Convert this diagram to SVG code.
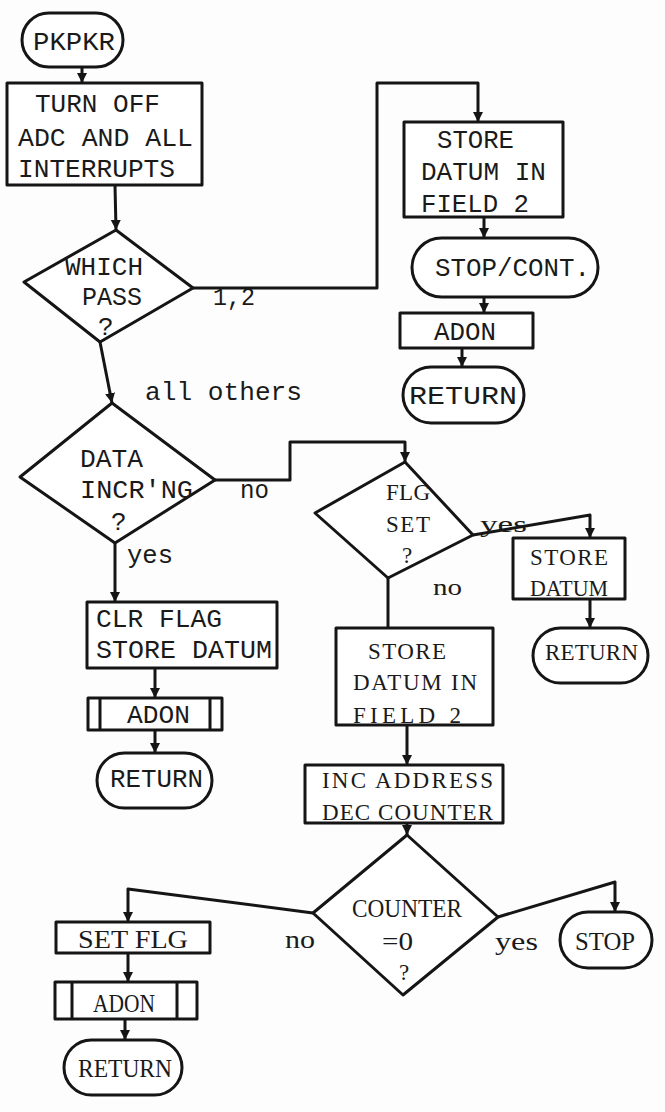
<svg xmlns="http://www.w3.org/2000/svg" width="665" height="1112" viewBox="0 0 665 1112">
<defs>
<style>
.s{fill:#ffffff;stroke:#151515;stroke-width:3;stroke-linejoin:round}
.c{fill:none;stroke:#151515;stroke-width:3;stroke-linejoin:round}
.m{font-family:"Liberation Mono","DejaVu Sans Mono",monospace;font-size:26px;fill:#1a1a1a}
.t{font-family:"Liberation Serif","DejaVu Serif",serif;font-size:23px;fill:#1a1a1a}
.b{font-family:"Liberation Serif","DejaVu Serif",serif;font-size:26px;fill:#1a1a1a}
</style>
<marker id="ah" markerUnits="userSpaceOnUse" markerWidth="12" markerHeight="12" refX="10" refY="5" orient="auto">
<path d="M0,0 L10,5 L0,10 z" fill="#151515"/>
</marker>
</defs>
<rect width="665" height="1112" fill="#fdfdfd"/>

<g id="connectors">
<path class="c" d="M82,67 L82,83" marker-end="url(#ah)"/>
<path class="c" d="M115,185 L116,230" marker-end="url(#ah)"/>
<path class="c" d="M193,288 L377,288 L377,83 L478,83 L478,122" marker-end="url(#ah)"/>
<path class="c" d="M484,217 L484,238" marker-end="url(#ah)"/>
<path class="c" d="M484,297 L484,313" marker-end="url(#ah)"/>
<path class="c" d="M462,348 L462,367" marker-end="url(#ah)"/>
<path class="c" d="M100,342 L112,403" marker-end="url(#ah)"/>
<path class="c" d="M215,480 L290,480 L290,442 L405,442 L405,462" marker-end="url(#ah)"/>
<path class="c" d="M115,543 L115,602" marker-end="url(#ah)"/>
<path class="c" d="M155,668 L155,698" marker-end="url(#ah)"/>
<path class="c" d="M155,730 L155,753" marker-end="url(#ah)"/>
<path class="c" d="M473,535 L590,515 L590,538" marker-end="url(#ah)"/>
<path class="c" d="M590,599 L590,628" marker-end="url(#ah)"/>
<path class="c" d="M388,578 L388,628"/>
<path class="c" d="M407,725 L407,765" marker-end="url(#ah)"/>
<path class="c" d="M407,823 L407,835" marker-end="url(#ah)"/>
<path class="c" d="M313,913 L128,889 L128,922" marker-end="url(#ah)"/>
<path class="c" d="M128,953 L128,982" marker-end="url(#ah)"/>
<path class="c" d="M125,1019 L125,1040" marker-end="url(#ah)"/>
<path class="c" d="M498,917 L615,882 L615,912" marker-end="url(#ah)"/>
<text class="m" x="213" y="305" textLength="42" lengthAdjust="spacingAndGlyphs">1,2</text>
<text class="m" x="145" y="400" textLength="157" lengthAdjust="spacingAndGlyphs">all others</text>
<text class="m" x="240" y="498" textLength="29" lengthAdjust="spacingAndGlyphs">no</text>
<text class="m" x="127" y="563" textLength="46" lengthAdjust="spacingAndGlyphs">yes</text>
<text class="t" x="480" y="532" textLength="47" lengthAdjust="spacingAndGlyphs">yes</text>
<text class="t" x="433" y="595" textLength="29" lengthAdjust="spacingAndGlyphs">no</text>
<text class="b" x="285" y="948" textLength="30" lengthAdjust="spacingAndGlyphs">no</text>
<text class="b" x="495" y="950" textLength="43" lengthAdjust="spacingAndGlyphs">yes</text>
</g>

<g id="pkpkr">
<rect class="s" x="22" y="13" width="101" height="54" rx="27"/>
<text class="m" x="33" y="50" textLength="82" lengthAdjust="spacingAndGlyphs">PKPKR</text>
</g>

<g id="turn-off">
<rect class="s" x="7" y="83" width="195" height="102"/>
<text class="m" x="35" y="112" textLength="125" lengthAdjust="spacingAndGlyphs">TURN OFF</text>
<text class="m" x="18" y="146" textLength="175" lengthAdjust="spacingAndGlyphs">ADC AND ALL</text>
<text class="m" x="18" y="177" textLength="157" lengthAdjust="spacingAndGlyphs">INTERRUPTS</text>
</g>

<g id="which-pass">
<polygon class="s" points="116,230 193,288 100,342 24,282"/>
<text class="m" x="65" y="275" textLength="78" lengthAdjust="spacingAndGlyphs">WHICH</text>
<text class="m" x="82" y="305" textLength="60" lengthAdjust="spacingAndGlyphs">PASS</text>
<text class="m" x="98" y="335">?</text>
</g>

<g id="store-field2-a">
<rect class="s" x="404" y="122" width="159" height="95"/>
<text class="m" x="437" y="148" textLength="77" lengthAdjust="spacingAndGlyphs">STORE</text>
<text class="m" x="421" y="180" textLength="125" lengthAdjust="spacingAndGlyphs">DATUM IN</text>
<text class="m" x="421" y="212" textLength="108" lengthAdjust="spacingAndGlyphs">FIELD 2</text>
</g>

<g id="stop-cont">
<rect class="s" x="412" y="238" width="186" height="59" rx="29.5"/>
<text class="m" x="435" y="276" textLength="155" lengthAdjust="spacingAndGlyphs">STOP/CONT.</text>
</g>

<g id="adon-a">
<rect class="s" x="400" y="313" width="133" height="35"/>
<text class="m" x="434" y="340" textLength="62" lengthAdjust="spacingAndGlyphs">ADON</text>
</g>

<g id="return-a">
<rect class="s" x="403" y="367" width="121" height="56" rx="28"/>
<text class="m" x="409" y="404" textLength="108" lengthAdjust="spacingAndGlyphs">RETURN</text>
</g>

<g id="data-incr">
<polygon class="s" points="112,403 215,480 115,543 20,477"/>
<text class="m" x="80" y="467" textLength="63" lengthAdjust="spacingAndGlyphs">DATA</text>
<text class="m" x="80" y="498" textLength="113" lengthAdjust="spacingAndGlyphs">INCR'NG</text>
<text class="m" x="111" y="530">?</text>
</g>

<g id="clr-flag">
<rect class="s" x="87" y="602" width="190" height="66"/>
<text class="m" x="96" y="627" textLength="126" lengthAdjust="spacingAndGlyphs">CLR FLAG</text>
<text class="m" x="96" y="658" textLength="176" lengthAdjust="spacingAndGlyphs">STORE DATUM</text>
</g>

<g id="adon-b">
<rect class="s" x="88" y="698" width="134" height="32"/>
<path class="c" d="M100,698 L100,730 M210,698 L210,730"/>
<text class="m" x="127" y="723" textLength="63" lengthAdjust="spacingAndGlyphs">ADON</text>
</g>

<g id="return-b">
<rect class="s" x="97" y="753" width="115" height="55" rx="27.5"/>
<text class="m" x="110" y="787" textLength="93" lengthAdjust="spacingAndGlyphs">RETURN</text>
</g>

<g id="flg-set">
<polygon class="s" points="405,462 473,535 388,578 315,513"/>
<text class="t" x="386" y="500" textLength="44" lengthAdjust="spacing">FLG</text>
<text class="t" x="386" y="532" textLength="44" lengthAdjust="spacing">SET</text>
<text class="t" x="402" y="563">?</text>
</g>

<g id="store-datum-c">
<rect class="s" x="513" y="538" width="112" height="61"/>
<text class="t" x="530" y="565" textLength="78" lengthAdjust="spacing">STORE</text>
<text class="t" x="530" y="596" textLength="78" lengthAdjust="spacingAndGlyphs">DATUM</text>
</g>

<g id="return-c">
<rect class="s" x="533" y="628" width="115" height="55" rx="27.5"/>
<text class="t" x="545" y="660" textLength="93" lengthAdjust="spacing">RETURN</text>
</g>

<g id="store-field2-b">
<rect class="s" x="336" y="628" width="157" height="97"/>
<text class="t" x="368" y="659" textLength="78" lengthAdjust="spacing">STORE</text>
<text class="t" x="353" y="690" textLength="124" lengthAdjust="spacing">DATUM IN</text>
<text class="t" x="353" y="723" textLength="108" lengthAdjust="spacing">FIELD 2</text>
</g>

<g id="inc-address">
<rect class="s" x="305" y="765" width="198" height="58"/>
<text class="t" x="322" y="788" textLength="171" lengthAdjust="spacing">INC ADDRESS</text>
<text class="t" x="322" y="820" textLength="171" lengthAdjust="spacing">DEC COUNTER</text>
</g>

<g id="counter-zero">
<polygon class="s" points="407,835 498,917 403,995 313,913"/>
<text class="b" x="352" y="917" textLength="110" lengthAdjust="spacingAndGlyphs">COUNTER</text>
<text class="b" x="382" y="950" textLength="31" lengthAdjust="spacingAndGlyphs">=0</text>
<text class="t" x="399" y="980">?</text>
</g>

<g id="set-flg">
<rect class="s" x="56" y="922" width="154" height="31"/>
<text class="b" x="78" y="948" textLength="110" lengthAdjust="spacingAndGlyphs">SET FLG</text>
</g>

<g id="adon-c">
<rect class="s" x="55" y="982" width="142" height="37"/>
<path class="c" d="M72,982 L72,1019 M177,982 L177,1019"/>
<text class="b" x="93" y="1012" textLength="62" lengthAdjust="spacingAndGlyphs">ADON</text>
</g>

<g id="return-d">
<rect class="s" x="64" y="1040" width="118" height="55" rx="27.5"/>
<text class="b" x="78" y="1077" textLength="94" lengthAdjust="spacingAndGlyphs">RETURN</text>
</g>

<g id="stop">
<rect class="s" x="560" y="912" width="92" height="56" rx="28"/>
<text class="b" x="575" y="950" textLength="60" lengthAdjust="spacingAndGlyphs">STOP</text>
</g>
</svg>
